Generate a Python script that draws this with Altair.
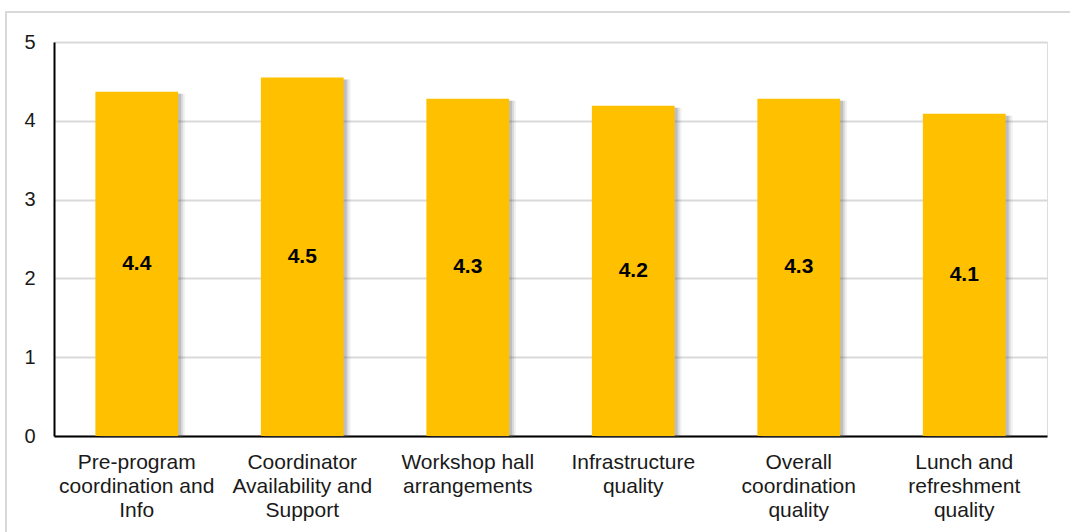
import altair as alt
import pandas as pd

categories = [
    ["Pre-program", "coordination and", "Info"],
    ["Coordinator", "Availability and", "Support"],
    ["Workshop hall", "arrangements"],
    ["Infrastructure", "quality"],
    ["Overall", "coordination", "quality"],
    ["Lunch and", "refreshment", "quality"],
]
keys = ["c1", "c2", "c3", "c4", "c5", "c6"]
values = [4.37, 4.55, 4.28, 4.19, 4.28, 4.09]
labels = ["4.4", "4.5", "4.3", "4.2", "4.3", "4.1"]

df = pd.DataFrame({"key": keys, "value": values, "label": labels,
                   "half": [v / 2 for v in values]})

label_expr = "{" + ",".join(
    f"'{k}': {categories[i]!r}" for i, k in enumerate(keys)
) + "}[datum.value]"

W, H = 993, 394
xscale = alt.Scale(paddingInner=0.5, paddingOuter=0.25)
yscale = alt.Scale(domain=[0, 5])

x = alt.X("key:N", sort=keys, scale=xscale, title=None,
          axis=alt.Axis(labelExpr=label_expr, labelAngle=0, labelFontSize=21,
                        labelColor="#1a1a1a", labelFont="Liberation Sans",
                        labelPadding=26, labelLineHeight=24, ticks=False,
                        domainColor="#000000", domainWidth=2, grid=False,
                        labelBaseline="middle"))
y = alt.Y("value:Q", scale=yscale, title=None,
          axis=alt.Axis(values=[0, 1, 2, 3, 4, 5], format="d", labelFontSize=20,
                        labelColor="#1a1a1a", labelFont="Liberation Sans",
                        labelPadding=19, ticks=False, domainColor="#000000",
                        domainWidth=2, gridColor="#d9d9d9", gridWidth=2))

border = alt.Chart(pd.DataFrame({"a": [0]})).mark_rect(
    fill=None, stroke="#d9d9d9", strokeWidth=2
).encode(x=alt.value(-48), x2=alt.value(1030), y=alt.value(-30), y2=alt.value(520))

shadows = []
for off, op in [(7, 0.08), (5, 0.14), (3, 0.22)]:
    shadows.append(
        alt.Chart(df).mark_bar(color="#555555", opacity=op, xOffset=off, yOffset=2)
        .encode(x=x, y=y)
    )

bars = alt.Chart(df).mark_bar(color="#FFC000").encode(x=x, y=y)

text = alt.Chart(df).mark_text(fontSize=21, fontWeight="bold", color="#000000",
                               font="Liberation Sans").encode(
    x=alt.X("key:N", sort=keys, scale=xscale),
    y=alt.Y("half:Q", scale=yscale),
    text="label:N",
)

chart = alt.layer(border, *shadows, bars, text).properties(
    width=W, height=H,
    autosize=alt.AutoSizeParams(type="none"),
    padding={"left": 54, "top": 42, "right": 23, "bottom": 96},
).configure_view(stroke=None).configure(background="#ffffff")

chart.save("out.html", embed_options={"renderer": "svg", "actions": False})
